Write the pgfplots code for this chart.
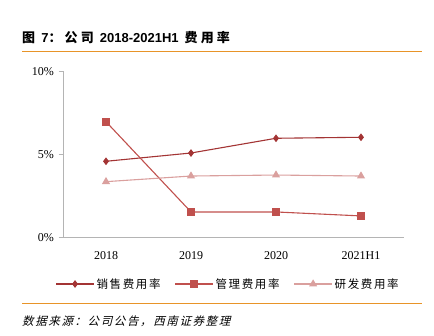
\documentclass[border=0pt]{standalone}
\usepackage{fontspec}
\setmainfont{Liberation Serif}
\newfontfamily\cjk{Noto Sans CJK SC}
\newfontfamily\cjkleg{Noto Sans CJK SC}[LetterSpace=14]
\newfontfamily\cjktitle{Noto Sans CJK SC}[LetterSpace=24]
\newfontfamily\cjkit{Noto Sans CJK SC}[FakeSlant=0.25,LetterSpace=14]
\newfontfamily\sansf{Liberation Sans}
\usepackage{pgfplots}
\pgfplotsset{compat=1.18}
\definecolor{cA}{RGB}{163,52,52}
\definecolor{cB}{RGB}{192,80,77}
\definecolor{cC}{RGB}{218,160,158}
\definecolor{orangeline}{RGB}{232,148,40}
\definecolor{axgray}{RGB}{180,180,180}
\begin{document}
\begin{tikzpicture}[x=1pt,y=1pt]
\path (0,0) rectangle (434,336);
\draw[orangeline, line width=1.5pt] (22,284.5) -- (422,284.5);
\draw[orangeline, line width=1.5pt] (22,32.5) -- (422,32.5);
\node[anchor=west, inner sep=0pt, font=\fontsize{13}{15}\selectfont] at (22,298) {\cjktitle\bfseries 图\ {\sansf\bfseries 7}：公司\ {\sansf\bfseries 2018-2021H1}\ 费用率};
\node[anchor=west, inner sep=0pt, font=\fontsize{11.5}{14}\selectfont] at (22,15) {\cjkit 数据来源：公司公告，西南证券整理};
\begin{axis}[
  at={(63.5pt,98.7pt)}, anchor=south west,
  scale only axis, width=340pt, height=165.6pt,
  xmin=-0.5, xmax=3.5, ymin=0, ymax=10,
  axis x line=bottom, axis y line=left,
  axis line style={-, axgray, line width=1.2pt},
  xtick={0,1,2,3}, xticklabels={2018,2019,2020,2021H1},
  xtick style={draw=none},
  ytick={0,5,10}, yticklabel={\pgfmathprintnumber{\tick}\%},
  ytick style={axgray, line width=1pt}, tick align=outside, major tick length=5pt,
  /pgf/number format/assume math mode=true,
  ticklabel style={font=\fontsize{12}{14}\selectfont},
  xticklabel style={yshift=-6pt},
  yticklabel style={xshift=-1pt},
  legend columns=3,
  legend style={at={(0.484,-0.282)}, anchor=center, draw=none, fill=none,
    font=\fontsize{11.5}{14}\selectfont\cjkleg, /tikz/every even column/.append style={column sep=12pt}},
  legend image code/.code={\draw[mark repeat=2,mark phase=2,#1] plot coordinates {(0pt,0pt)(19pt,0pt)(38pt,0pt)};},
]
\addplot[cA, line width=1.1pt, mark=diamond*, mark size=3pt] coordinates {(0,4.59)(1,5.09)(2,5.98)(3,6.04)};
\addlegendentry{销售费用率}
\addplot[cB, line width=1.1pt, mark=square*, mark size=3.3pt] coordinates {(0,6.98)(1,1.53)(2,1.53)(3,1.29)};
\addlegendentry{管理费用率}
\addplot[cC, line width=1.1pt, mark=triangle*, mark size=3.6pt] coordinates {(0,3.36)(1,3.70)(2,3.76)(3,3.70)};
\addlegendentry{研发费用率}
\end{axis}
\end{tikzpicture}
\end{document}
